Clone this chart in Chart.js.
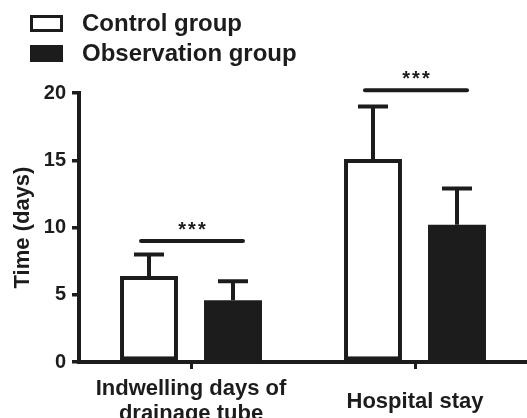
<!DOCTYPE html>
<html>
<head>
<meta charset="utf-8">
<script src="https://cdn.jsdelivr.net/npm/chart.js@4"></script>
<style>
  html, body { margin: 0; padding: 0; background: #fff; }
  #wrap { width: 527px; height: 418px; }
</style>
</head>
<body>
<div id="wrap"><canvas id="bar-chart" width="527" height="418"></canvas></div>
<script>
var categories = [['Indwelling days of', 'drainage tube'], 'Hospital stay'];
var seriesNames = ['Control group', 'Observation group'];
var controlMean = [6.4, 15.1];
var controlSd = [1.6, 3.9];
var observationMean = [4.6, 10.2];
var observationSd = [1.4, 2.7];
var sigLevel = [9.0, 20.2];
var sigText = ['***', '***'];
var yTicks = [0, 5, 10, 15, 20];

var ink = '#1c1c1c';
var fontName = '"Liberation Sans", Arial, sans-serif';

// error bars, significance bars and the legend
var extras = {
     id: 'extras',
     afterDatasetsDraw: function (chart) {
          var ctx = chart.ctx;
          var y = chart.scales.y;
          var sds = [controlSd, observationSd];
          ctx.save();
          ctx.strokeStyle = ink;
          ctx.lineWidth = 4;
          ctx.lineCap = 'butt';
          for (var d = 0; d < 2; d++) {
               var meta = chart.getDatasetMeta(d);
               meta.data.forEach(function (bar, j) {
                    var mean = chart.data.datasets[d].data[j];
                    var top = y.getPixelForValue(mean + sds[d][j]);
                    ctx.beginPath();
                    ctx.moveTo(bar.x, bar.y);
                    ctx.lineTo(bar.x, top);
                    ctx.moveTo(bar.x - 15, top);
                    ctx.lineTo(bar.x + 15, top);
                    ctx.stroke();
               });
          }
          // significance
          var m0 = chart.getDatasetMeta(0), m1 = chart.getDatasetMeta(1);
          ctx.lineCap = 'round';
          ctx.fillStyle = ink;
          ctx.font = 'bold 20px ' + fontName;
          ctx.letterSpacing = '2px';
          ctx.textAlign = 'center';
          ctx.textBaseline = 'alphabetic';
          for (var j = 0; j < sigLevel.length; j++) {
               var x1 = m0.data[j].x - 8;
               var x2 = m1.data[j].x + 10;
               var ly = y.getPixelForValue(sigLevel[j]);
               ctx.beginPath();
               ctx.moveTo(x1, ly);
               ctx.lineTo(x2, ly);
               ctx.stroke();
               ctx.fillText(sigText[j], (x1 + x2) / 2 + 1, ly - 5);
          }
          ctx.letterSpacing = '0px';
          // legend
          ctx.lineWidth = 3;
          ctx.strokeRect(31.5, 16.5, 30, 14);
          ctx.fillRect(30, 45, 33, 17);
          ctx.font = 'bold 24px ' + fontName;
          ctx.textAlign = 'left';
          ctx.textBaseline = 'middle';
          ctx.fillText(seriesNames[0], 82, 24);
          ctx.fillText(seriesNames[1], 82, 54);
          ctx.restore();
     }
};

var chart = new Chart(document.getElementById('bar-chart'), {
     type: 'bar',
     data: {
          labels: categories,
          datasets: [{
               label: seriesNames[0],
               data: controlMean,
               backgroundColor: '#ffffff',
               borderColor: ink,
               borderWidth: 4,
               borderSkipped: false
          }, {
               label: seriesNames[1],
               data: observationMean,
               backgroundColor: ink,
               borderColor: ink,
               borderWidth: 0
          }]
     },
     options: {
          responsive: false,
          animation: false,
          devicePixelRatio: 1,
          layout: { padding: { top: 93, left: 0, right: 0, bottom: 0 } },
          categoryPercentage: 0.75,
          barPercentage: 0.69,
          plugins: {
               legend: { display: false },
               tooltip: { enabled: false }
          },
          scales: {
               x: {
                    afterFit: function (axis) { axis.height = 56; },
                    border: { display: true, width: 4, color: ink },
                    grid: {
                         offset: false,
                         drawOnChartArea: false,
                         drawTicks: true,
                         tickLength: 7,
                         lineWidth: 3,
                         color: ink
                    },
                    ticks: {
                         color: ink,
                         padding: 20,
                         maxRotation: 0,
                         autoSkip: false,
                         crossAlign: 'center',
                         font: { family: fontName, size: 22, weight: 'bold', lineHeight: 1.14 }
                    }
               },
               y: {
                    min: 0,
                    max: 20,
                    afterFit: function (axis) { axis.width = 79; },
                    afterBuildTicks: function (axis) {
                         axis.ticks = yTicks.map(function (v) { return { value: v }; });
                    },
                    border: { display: true, width: 4, color: ink },
                    grid: {
                         drawOnChartArea: false,
                         drawTicks: true,
                         tickLength: 7,
                         lineWidth: 3.5,
                         color: ink
                    },
                    ticks: {
                         color: ink,
                         padding: 6,
                         font: { family: fontName, size: 20, weight: 'bold' }
                    },
                    title: {
                         display: true,
                         text: 'Time (days)',
                         color: ink,
                         padding: { top: 10, bottom: 0 },
                         font: { family: fontName, size: 22, weight: 'bold' }
                    }
               }
          }
     },
     plugins: [extras]
});
</script>
</body>
</html>
